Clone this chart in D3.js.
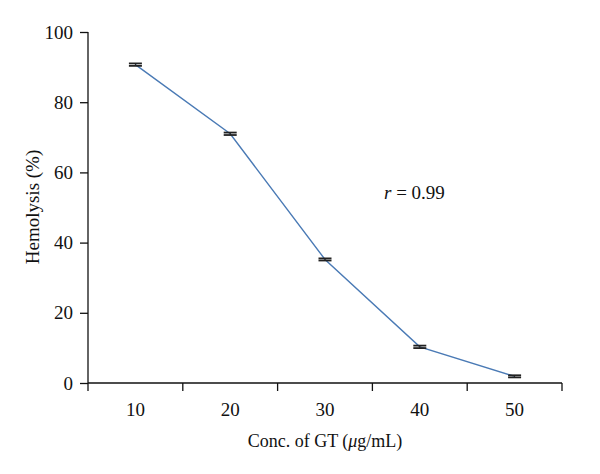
<!DOCTYPE html>
<html><head><meta charset="utf-8">
<script src="https://cdn.jsdelivr.net/npm/d3@7/dist/d3.min.js"></script>
<style>body{margin:0;background:#fff}svg{display:block}text{font-family:"Liberation Serif","DejaVu Serif",serif;fill:#111}</style>
</head><body><svg id="c" width="600" height="474"></svg>
<script>
const categories = ["10","20","30","40","50"];
const hemolysis = [90.7, 71.0, 35.2, 10.3, 1.9];
const errors = [0.35, 0.35, 0.3, 0.35, 0.3];
const yTicks = [0,20,40,60,80,100];

const svg = d3.select("#c");
const m = {l:88, r:38, t:32, b:91};
const W = 600, H = 474;
const x = d3.scaleBand().domain(categories).range([m.l, W-m.r]);
const y = d3.scaleLinear().domain([0,100]).range([H-m.b, m.t]);

// y axis
const ya = svg.append("g").attr("transform",`translate(${m.l},0)`)
  .call(d3.axisLeft(y).tickValues(yTicks).tickSize(8).tickPadding(7));
ya.selectAll("text").style("font-size","19px").attr("font-family","Liberation Serif");
ya.selectAll("line,path").attr("stroke","#111").attr("stroke-width",1.3);
ya.select(".domain").attr("d",`M-0,${y(100)}V${y(0)}`);

// x axis with ticks at band boundaries
const xa = svg.append("g").attr("transform",`translate(0,${y(0)})`);
xa.append("line").attr("x1",m.l).attr("x2",W-m.r).attr("stroke","#111").attr("stroke-width",1.3);
const bounds = categories.map(c=>x(c)).concat([x(categories[categories.length-1])+x.bandwidth()]);
xa.selectAll("line.t").data(bounds).join("line").attr("class","t")
  .attr("x1",d=>d).attr("x2",d=>d).attr("y1",0).attr("y2",8).attr("stroke","#111").attr("stroke-width",1.3);
xa.selectAll("text").data(categories).join("text")
  .attr("x",d=>x(d)+x.bandwidth()/2).attr("y",33).attr("text-anchor","middle")
  .style("font-size","19px").text(d=>d);

const cx = d=>x(d)+x.bandwidth()/2;
// line
svg.append("path").datum(hemolysis)
  .attr("d", d3.line().x((d,i)=>cx(categories[i])).y(d=>y(d)))
  .attr("fill","none").attr("stroke","#4a7ab5").attr("stroke-width",1.4);

// error bar caps
const eb = svg.append("g");
hemolysis.forEach((v,i)=>{
  const c = cx(categories[i]);
  [v+errors[i], v-errors[i]].forEach(e=>{
    eb.append("line").attr("x1",c-6.5).attr("x2",c+6.5).attr("y1",y(e)).attr("y2",y(e))
      .attr("stroke","#222").attr("stroke-width",1.8);
  });
  eb.append("line").attr("x1",c).attr("x2",c).attr("y1",y(v+errors[i])).attr("y2",y(v-errors[i]))
    .attr("stroke","#222").attr("stroke-width",1);
});

// annotation
const ann = svg.append("text").attr("x",384).attr("y",199).style("font-size","19px");
ann.append("tspan").attr("font-style","italic").text("r");
ann.append("tspan").text(" = 0.99");

// axis titles
svg.append("text").attr("x",325).attr("y",447).attr("text-anchor","middle").style("font-size","18px")
  .html('Conc. of GT (<tspan font-style="italic">μ</tspan>g/mL)');
svg.append("text").attr("transform","translate(39,207) rotate(-90)").attr("text-anchor","middle")
  .style("font-size","19px").text("Hemolysis (%)");
</script></body></html>
